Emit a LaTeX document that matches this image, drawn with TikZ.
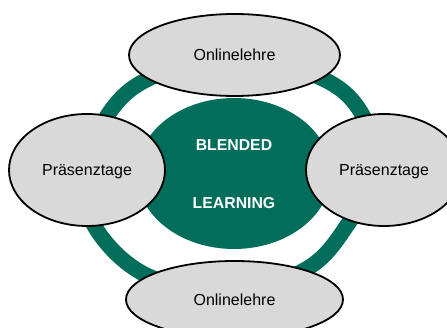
\documentclass[tikz,border=0pt]{standalone}
\usepackage{fontspec}
\setmainfont{Liberation Sans}
\usetikzlibrary{shapes.geometric}
\definecolor{bgreen}{RGB}{0,110,90}
\definecolor{egray}{RGB}{217,217,217}
\begin{document}
\begin{tikzpicture}[x=1pt,y=-1pt,
  ovalbox/.style 2 args={ellipse, draw=black, line width=1.8pt, fill=egray,
    inner sep=0pt, minimum width=#1, minimum height=#2, text depth=0pt,
    font=\fontsize{16}{19}\selectfont},
  coretext/.style={text=white, inner sep=0pt, text depth=0pt,
    font=\fontsize{15.8}{19}\selectfont\bfseries},
  ringline/.style={draw=bgreen, line width=15.5pt}]
\useasboundingbox (0,0) rectangle (447,328);
\clip (0,0) rectangle (447,328);
% ring
\draw[ringline] plot[smooth cycle, tension=0.6] coordinates {
  (232,55) (321,78) (362,114) (376,170) (350,221) (308,268)
  (230,293) (146,275) (95,227) (84,172) (107,116) (148,79)};
% core
\node[ellipse, fill=bgreen, inner sep=0pt, minimum width=194pt, minimum height=151pt] (core) at (234,173.5) {};
\node[coretext] (blended) at (234,145.2) {BLENDED};
\node[coretext] (learning) at (234,202.5) {LEARNING};
% satellites
\node[ovalbox={211pt}{82pt}] (top) at (234.5,55) {Onlinelehre};
\node[ovalbox={217pt}{77pt}] (bottom) at (234.5,299.5) {Onlinelehre};
\node[ovalbox={156pt}{112pt}] (left) at (87,170) {Präsenztage};
\node[ovalbox={156pt}{112pt}] (right) at (384,170) {Präsenztage};
\end{tikzpicture}
\end{document}
